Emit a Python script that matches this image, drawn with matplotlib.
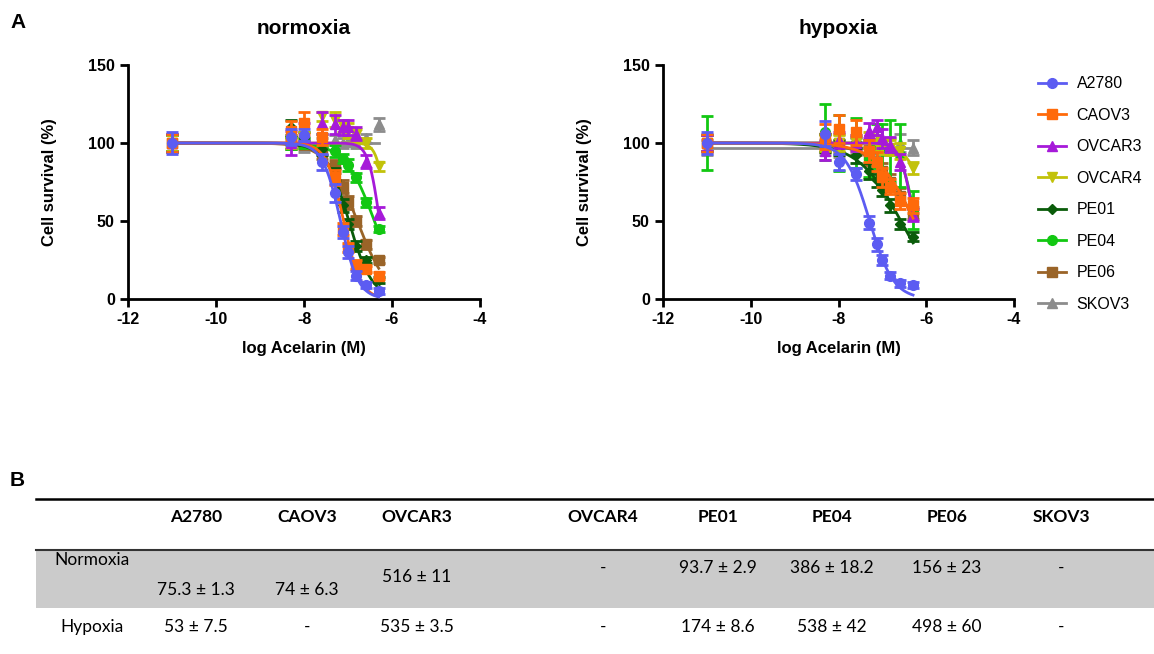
# Acelarin dose-response curves (normoxia / hypoxia) + IC50 table

import numpy as np
import matplotlib.pyplot as plt
from matplotlib.lines import Line2D

plt.rcParams['font.family'] = ['Liberation Sans', 'DejaVu Sans']
plt.rcParams['axes.unicode_minus'] = False

# 1. DATA
cell_lines = ["A2780", "CAOV3", "OVCAR3", "OVCAR4", "PE01", "PE04", "PE06", "SKOV3"]
conc_M = [1e-11, 5e-9, 1e-8, 2.5e-8, 5e-8, 7.5e-8, 1e-7, 1.5e-7, 2.5e-7, 5e-7]

# mean cell survival (%), one row per cell line
norm_mean = [
    [100, 104, 105, 88, 68, 43, 30, 15, 9, 5],
    [100, 108, 113, 104, 78, 45, 33, 22, 19, 15],
    [100, 100, 107, 113, 112, 110, 110, 106, 88, 55],
    [100, 100, 104, 117, 115, 111, 108, 105, 100, 85],
    [100, 110, 103, 96, 80, 60, 48, 34, 25, 12],
    [100, 100, 100, 102, 95, 90, 86, 78, 62, 45],
    [100, 100, 100, 94, 85, 72, 62, 50, 35, 25],
    [100, 100, 98, 100, 102, 100, 101, 100, 103, 112],
]
norm_err = [
    [7, 5, 4, 5, 6, 4, 4, 3, 2, 2],
    [6, 6, 7, 5, 5, 4, 3, 3, 2, 2],
    [6, 8, 6, 7, 6, 5, 5, 4, 4, 4],
    [5, 3, 3, 3, 5, 4, 5, 4, 3, 3],
    [6, 5, 4, 4, 4, 4, 3, 3, 2, 2],
    [5, 4, 3, 4, 4, 3, 4, 3, 3, 2],
    [5, 4, 4, 4, 4, 4, 4, 3, 3, 2],
    [5, 4, 4, 3, 3, 3, 3, 3, 3, 4],
]
hyp_mean = [
    [100, 106, 88, 80, 49, 35, 25, 15, 10, 9],
    [100, 104, 109, 107, 95, 88, 78, 72, 63, 60],
    [100, 95, 102, 100, 108, 110, 103, 99, 88, 54],
    [100, 100, 100, 100, 102, 100, 98, 97, 95, 84],
    [100, 100, 97, 92, 82, 76, 70, 60, 48, 40],
    [100, 107, 100, 100, 90, 98, 96, 95, 92, 57],
    [100, 100, 100, 98, 92, 88, 82, 75, 66, 55],
    [97, 97, 96, 98, 97, 96, 97, 98, 100, 97],
]
hyp_err = [
    [7, 8, 5, 4, 4, 4, 3, 2, 2, 2],
    [6, 8, 9, 8, 7, 6, 6, 5, 5, 5],
    [5, 6, 5, 5, 5, 5, 6, 5, 5, 4],
    [5, 5, 5, 5, 5, 5, 5, 5, 5, 4],
    [5, 6, 5, 5, 5, 4, 4, 4, 3, 3],
    [17, 18, 18, 16, 12, 14, 16, 20, 20, 12],
    [5, 6, 6, 6, 6, 6, 5, 5, 5, 4],
    [5, 5, 5, 5, 5, 5, 5, 5, 6, 5],
]

# IC50 (nM) table
norm_ic50 = ["75.3 ± 1.3", "74 ± 6.3", "516 ± 11", "-", "93.7 ± 2.9", "386 ± 18.2", "156 ± 23", "-"]
hyp_ic50 = ["53 ± 7.5", "-", "535 ± 3.5", "-", "174 ± 8.6", "538 ± 42", "498 ± 60", "-"]

colors = ["#5c5cf2", "#ff6a0a", "#a61ad9", "#c2c20a", "#0a5c0a", "#12c812", "#9a6428", "#8c8c8c"]
markers = ["o", "s", "^", "v", "D", "o", "s", "^"]
msizes = [7, 7, 7.5, 7.5, 5.5, 7, 7, 7.5]

log_conc = np.log10(conc_M)


# 2. SIMPLE HILL FIT (grid search, top = control, bottom = 0)
def hill_fit(x, y):
    x = np.asarray(x)
    y = np.asarray(y, dtype=float)
    top = y[0]
    ic = np.arange(-9, -4, 0.01)
    h = np.arange(0.3, 4.01, 0.05)
    pred = top / (1 + 10 ** ((x[None, None, :] - ic[:, None, None]) * h[None, :, None]))
    sse = ((pred - y) ** 2).sum(-1)
    i, j = np.unravel_index(np.argmin(sse), sse.shape)
    xs = np.linspace(x.min(), x.max(), 300)
    return xs, top / (1 + 10 ** ((xs - ic[i]) * h[j]))


# 3. FIGURE
fig = plt.figure(figsize=(11.54, 6.54), dpi=100)
W, H = 1154, 654

def px_axes(x0, y0, x1, y1):
    return fig.add_axes([x0 / W, 1 - y1 / H, (x1 - x0) / W, (y1 - y0) / H])

ax_n = px_axes(128, 65, 480, 299)
ax_h = px_axes(663, 65, 1014, 299)

for ax, means, errs, title in [(ax_n, norm_mean, norm_err, "normoxia"),
                               (ax_h, hyp_mean, hyp_err, "hypoxia")]:
    for k, name in enumerate(cell_lines):
        z = 20 - k
        xs, ys = hill_fit(log_conc, means[k])
        ax.plot(xs, ys, color=colors[k], lw=2, zorder=z)
        ax.errorbar(log_conc, means[k], yerr=errs[k], fmt=markers[k], color=colors[k],
                    ms=msizes[k], elinewidth=2, capsize=4, capthick=2, zorder=z)
    ax.set_xlim(-12, -4)
    ax.set_ylim(0, 150)
    ax.set_xticks([-12, -10, -8, -6, -4])
    ax.set_yticks([0, 50, 100, 150])
    for s in ["top", "right"]:
        ax.spines[s].set_visible(False)
    for s in ["left", "bottom"]:
        ax.spines[s].set_linewidth(2)
    ax.tick_params(width=2, length=6, labelsize=11.5)
    for lab in ax.get_xticklabels() + ax.get_yticklabels():
        lab.set_fontweight("bold")
    ax.set_title(title, fontsize=15, fontweight="bold", pad=22)
    ax.set_xlabel("log Acelarin (M)", fontsize=12, fontweight="bold", labelpad=10)
    ax.set_ylabel("Cell survival (%)", fontsize=12, fontweight="bold", labelpad=22)

handles = [Line2D([], [], color=colors[k], marker=markers[k], ms=msizes[k], lw=2)
           for k in range(len(cell_lines))]
fig.legend(handles, cell_lines, loc="upper left", bbox_to_anchor=(1032 / W, 1 - 70 / H),
           frameon=False, fontsize=11.5, handlelength=1.7, labelspacing=1.03,
           handletextpad=0.7, borderaxespad=0)

fig.text(10 / W, 1 - 22 / H, "A", fontsize=15, fontweight="bold", va="center")
fig.text(10 / W, 1 - 480 / H, "B", fontsize=15, fontweight="bold", va="center")

# 4. IC50 TABLE
tax = fig.add_axes([0, 0, 1, 1], zorder=-1)
tax.set_xlim(0, W)
tax.set_ylim(H, 0)
tax.axis("off")

col_x = [196, 307, 417, 603, 718, 832, 947, 1061]
norm_y = [590, 590, 577, 568, 568, 568, 568, 568]
tfont = dict(family=["Lato", "DejaVu Sans"], fontsize=12.5, ha="center", va="center")

tax.fill_between([36, W], 550, 608, color="#cbcbcb", lw=0)
tax.plot([36, W], [499, 499], color="black", lw=1.8)
tax.plot([36, W], [550, 550], color="#333333", lw=1.5)

for k, name in enumerate(cell_lines):
    tax.text(col_x[k], 517, name, fontweight="bold", **tfont)
    tax.text(col_x[k], norm_y[k], norm_ic50[k], **tfont)
    tax.text(col_x[k], 627, hyp_ic50[k], **tfont)
tax.text(92, 560, "Normoxia", **tfont)
tax.text(92, 627, "Hypoxia", **tfont)

fig.savefig("out.png", dpi=100)
